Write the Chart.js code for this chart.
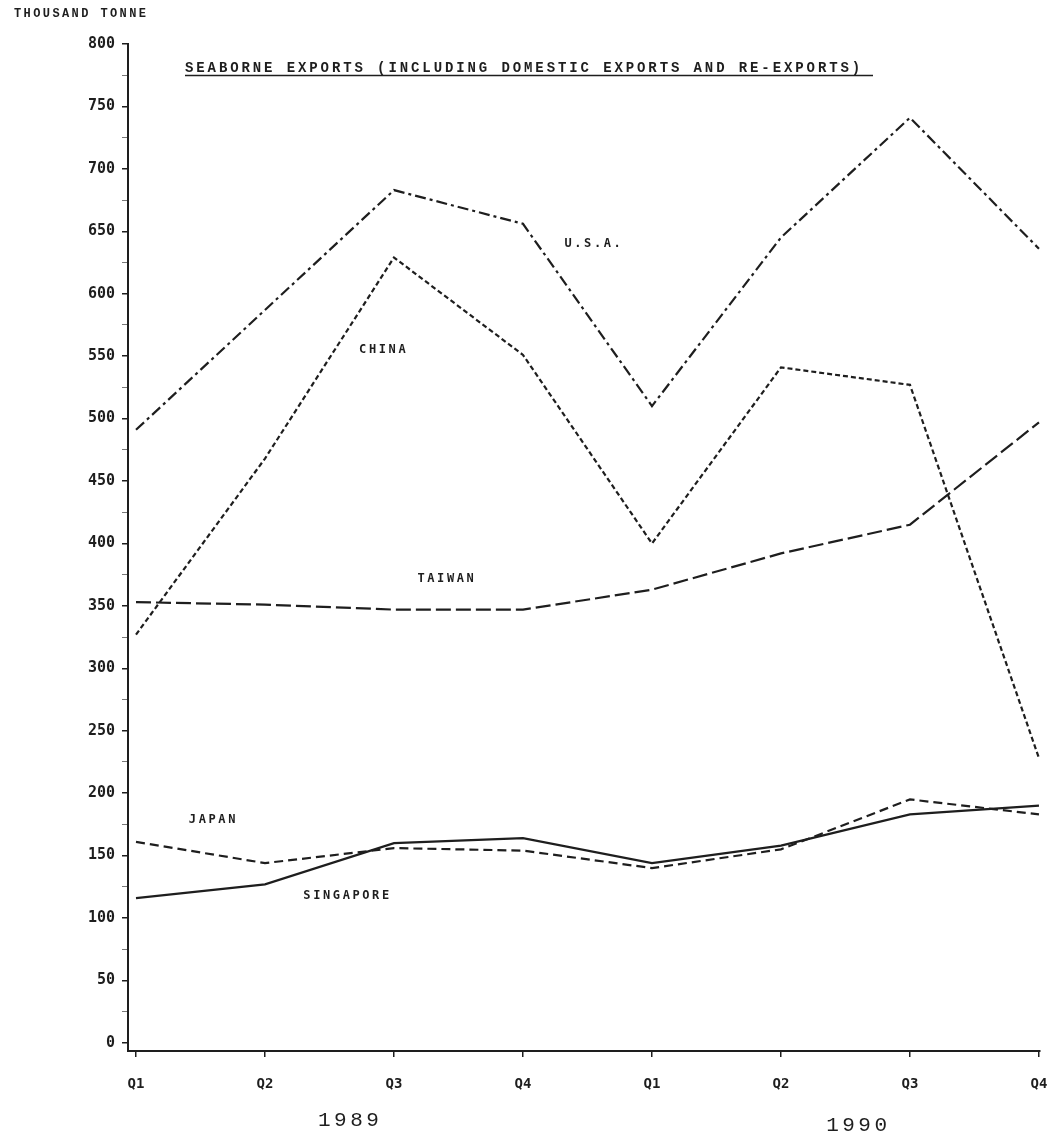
<!DOCTYPE html>
<html>
<head>
<meta charset="utf-8">
<title>Seaborne exports</title>
<script src="https://cdn.jsdelivr.net/npm/chart.js@4"></script>
<style>
    html, body { margin: 0; padding: 0; background: #ffffff; }
    #wrap { position: relative; width: 1059px; height: 1138px; }
</style>
</head>
<body>
<div id="wrap"><canvas id="chart"></canvas></div>
<script>
    const quarters = ["Q1", "Q2", "Q3", "Q4", "Q1", "Q2", "Q3", "Q4"];
    const years = ["1989", "1990"];
    const usa = [491, 587, 683, 656, 510, 645, 741, 636];
    const china = [327, 468, 629, 551, 400, 541, 527, 228];
    const taiwan = [353, 351, 347, 347, 363, 392, 415, 497];
    const japan = [161, 144, 156, 154, 140, 155, 195, 183];
    const singapore = [116, 127, 160, 164, 144, 158, 183, 190];

    const ink = "#1e1e1e";
    const toPoints = (values) => values.map((v, i) => ({ x: i, y: v }));

    // series labels placed in data units (quarter index, thousand tonne)
    const seriesLabels = [
        { text: "U.S.A.", x: 3.55, y: 640 },
        { text: "CHINA", x: 1.92, y: 555 },
        { text: "TAIWAN", x: 2.41, y: 372 },
        { text: "JAPAN", x: 0.6, y: 179 },
        { text: "SINGAPORE", x: 1.64, y: 118 },
    ];
    const yearPositions = [1.66, 5.6];

    const textPlugin = {
        id: "texts",
        afterDraw(chart) {
            const { ctx, scales } = chart;
            ctx.save();
            ctx.fillStyle = ink;
            ctx.strokeStyle = ink;

            ctx.font = 'bold 12px "Liberation Mono"';
            ctx.letterSpacing = "2.4px";
            ctx.textAlign = "left";
            ctx.textBaseline = "middle";
            ctx.fillText("THOUSAND TONNE", 14, 14);

            ctx.font = 'bold 14px "Liberation Mono"';
            ctx.letterSpacing = "2.9px";
            ctx.fillText("SEABORNE EXPORTS (INCLUDING DOMESTIC EXPORTS AND RE-EXPORTS)", 185, 68);
            ctx.lineWidth = 1.5;
            ctx.beginPath();
            ctx.moveTo(185, 75.5);
            ctx.lineTo(873, 75.5);
            ctx.stroke();

            ctx.font = 'bold 12px "DejaVu Sans Mono"';
            ctx.letterSpacing = "2.6px";
            ctx.textAlign = "center";
            seriesLabels.forEach((label) => {
                ctx.fillText(label.text, scales.x.getPixelForValue(label.x), scales.y.getPixelForValue(label.y));
            });

            ctx.font = '21px "Liberation Mono"';
            ctx.letterSpacing = "3.5px";
            years.forEach((year, i) => {
                ctx.fillText(year, scales.x.getPixelForValue(yearPositions[i]), i === 0 ? 1120 : 1125);
            });
            ctx.restore();
        },
    };

    const line = (label, values, dash) => ({
        label,
        data: toPoints(values),
        borderColor: ink,
        borderWidth: 2.2,
        borderDash: dash,
        pointRadius: 0,
        tension: 0,
        fill: false,
    });

    new Chart(document.getElementById("chart"), {
        type: "line",
        data: {
            datasets: [
                line("U.S.A.", usa, [11, 4, 3, 4]),
                line("CHINA", china, [5, 3]),
                line("TAIWAN", taiwan, [15, 5]),
                line("JAPAN", japan, [9, 5]),
                line("SINGAPORE", singapore, []),
            ],
        },
        plugins: [textPlugin],
        options: {
            responsive: true,
            maintainAspectRatio: false,
            animation: false,
            layout: { padding: { left: 10, right: 19, top: 44, bottom: 0 } },
            plugins: {
                legend: { display: false },
                tooltip: { enabled: false },
            },
            scales: {
                x: {
                    type: "linear",
                    min: -0.062,
                    max: 7.008,
                    afterBuildTicks: (scale) => {
                        scale.ticks = quarters.map((_, i) => ({ value: i }));
                    },
                    afterFit: (scale) => {
                        scale.height = 1138 - 1051;
                        scale.paddingLeft = 0;
                        scale.paddingRight = 0;
                    },
                    ticks: {
                        color: ink,
                        padding: 19,
                        maxRotation: 0,
                        font: { family: "DejaVu Sans Mono", weight: "bold", size: 14 },
                        callback: (value) => quarters[value] ?? "",
                    },
                    grid: { drawOnChartArea: false, drawTicks: true, tickLength: 6, color: ink, lineWidth: 1.5 },
                    border: { display: true, color: ink, width: 2 },
                },
                y: {
                    min: -6.5,
                    max: 800,
                    afterBuildTicks: (scale) => {
                        const ticks = [];
                        for (let v = 0; v <= 800; v += 25) ticks.push({ value: v });
                        scale.ticks = ticks;
                    },
                    afterFit: (scale) => {
                        scale.width = 118;
                        scale.paddingTop = 0;
                        scale.paddingBottom = 0;
                    },
                    ticks: {
                        color: ink,
                        padding: 7,
                        font: { family: "DejaVu Sans Mono", weight: "bold", size: 15 },
                        callback: (value) => (value % 50 === 0 ? String(value) : ""),
                    },
                    grid: {
                        drawOnChartArea: false,
                        drawTicks: true,
                        tickLength: 6,
                        color: (ctx) => (ctx.tick && ctx.tick.value % 50 === 0 ? ink : "#777777"),
                        lineWidth: (ctx) => (ctx.tick && ctx.tick.value % 50 === 0 ? 1.5 : 1),
                    },
                    border: { display: true, color: ink, width: 2 },
                },
            },
        },
    });
</script>
</body>
</html>
